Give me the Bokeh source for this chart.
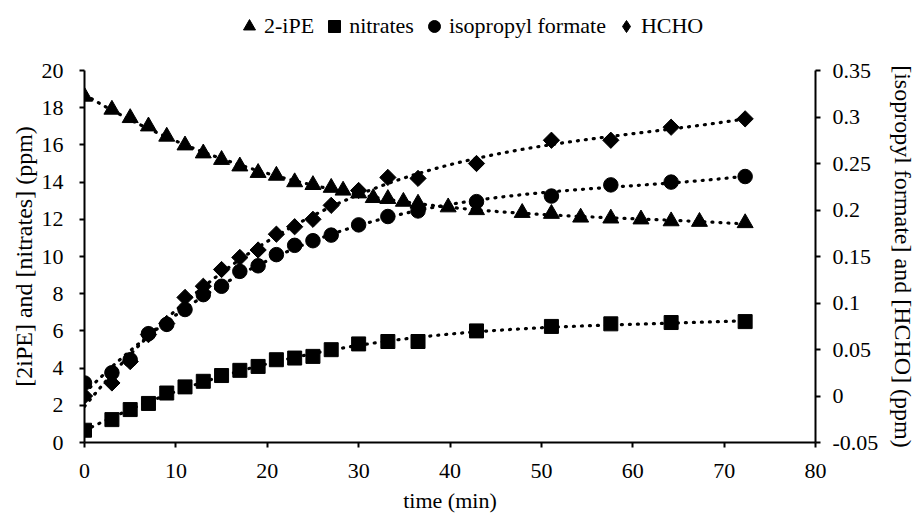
import numpy as np
from bokeh.plotting import figure
from bokeh.layouts import column
from bokeh.models import (Range1d, LinearAxis, FixedTicker, Legend, LegendItem,
                          CustomJSTickFormatter)
from bokeh.embed import file_html
from bokeh.resources import INLINE

# ---- data ----
time_ipe = [0, 3, 5, 7, 9, 11, 13, 15, 17, 19, 21, 23, 25, 27, 28.3, 30, 31.6, 33.2,
            34.9, 36.5, 39.8, 42.9, 47.9, 51.1, 54.3, 57.6, 60.9, 64.2, 67.3, 72.3]
ipe = [18.6, 17.9, 17.45, 17.0, 16.45, 15.98, 15.55, 15.2, 14.85, 14.5, 14.35, 14.0,
       13.85, 13.7, 13.55, 13.4, 13.15, 13.1, 12.95, 12.85, 12.65, 12.5, 12.35, 12.3,
       12.1, 12.05, 12.0, 11.9, 11.87, 11.8]

time_b = [0, 3, 5, 7, 9, 11, 13, 15, 17, 19, 21, 23, 25, 27, 30, 33.2, 36.5, 42.9,
          51.1, 57.6, 64.2, 72.3]
nitrates = [0.66, 1.23, 1.77, 2.1, 2.66, 2.99, 3.29, 3.6, 3.88, 4.09, 4.45, 4.54,
            4.63, 4.99, 5.3, 5.43, 5.43, 6.0, 6.24, 6.38, 6.45, 6.5]
formate = [0.014, 0.025, 0.039, 0.067, 0.077, 0.093, 0.109, 0.118, 0.134, 0.140,
           0.152, 0.162, 0.167, 0.173, 0.184, 0.193, 0.199, 0.209, 0.215, 0.227,
           0.230, 0.236]
hcho = [0.0, 0.014, 0.037, 0.066, 0.078, 0.106, 0.118, 0.136, 0.149, 0.157, 0.174,
        0.182, 0.190, 0.205, 0.221, 0.235, 0.234, 0.250, 0.275, 0.275, 0.289, 0.298]

series_names = ["2-iPE", "nitrates", "isopropyl formate", "HCHO"]
x_ticks = [0, 10, 20, 30, 40, 50, 60, 70, 80]
left_ticks = [0, 2, 4, 6, 8, 10, 12, 14, 16, 18, 20]
right_ticks = [-0.05, 0, 0.05, 0.1, 0.15, 0.2, 0.25, 0.3, 0.35]

FONT = "Liberation Serif"
LEG_H = 46

# marker styles for the four series
MARKERS = [dict(marker="triangle", size=16),
           dict(marker="square", size=14),
           dict(marker="circle", size=14.5),
           dict(marker="square", size=11.5, angle=np.pi / 4)]
LEGEND_MARKERS = ["triangle", "square", "circle", "diamond"]
SERIES = [(time_ipe, ipe), (time_b, nitrates), (time_b, formate), (time_b, hcho)]

# ---------------- legend strip (its frame is aligned with the chart frame) ----------------
lg = figure(width=919, height=LEG_H, output_backend="svg", toolbar_location=None,
            x_axis_type=None, y_axis_type=None, x_range=Range1d(0, 80),
            y_range=Range1d(-2, -1), min_border=0)
lg.outline_line_color = None
lg.xgrid.visible = False
lg.ygrid.visible = False
# the series drawn here fall outside this strip's range; they only feed the legend
leg_renderers = [lg.scatter(t, v, color="black", marker=m)
                 for (t, v), m in zip(SERIES, LEGEND_MARKERS)]
legend = Legend(items=[LegendItem(label=n, renderers=[r])
                       for n, r in zip(series_names, leg_renderers)],
                orientation="horizontal", location=(150, 5),
                glyph_width=30, glyph_height=30, label_standoff=0, spacing=5,
                padding=0, margin=0, border_line_color=None,
                background_fill_alpha=0,
                label_text_font=FONT, label_text_font_size="22px",
                label_text_color="black")
lg.add_layout(legend, "center")

# ---------------- main chart ----------------
p = figure(width=919, height=515 - LEG_H, output_backend="svg", toolbar_location=None,
           x_range=Range1d(0, 80), y_range=Range1d(0, 20),
           min_border_left=84, min_border_right=102, min_border_top=70 - LEG_H,
           min_border_bottom=72)
p.extra_y_ranges = {"right": Range1d(-0.05, 0.35)}
p.xgrid.visible = False
p.ygrid.visible = False
p.outline_line_color = None


def style_axis(ax, label_size):
    ax.axis_line_color = "black"
    ax.axis_line_width = 2
    ax.major_tick_line_color = "black"
    ax.major_tick_line_width = 2
    ax.major_tick_out = 5
    ax.major_tick_in = 0
    ax.minor_tick_line_color = None
    ax.major_label_text_font = FONT
    ax.major_label_text_font_size = "22px"
    ax.major_label_text_color = "black"
    ax.axis_label_text_font = FONT
    ax.axis_label_text_font_size = label_size
    ax.axis_label_text_font_style = "normal"
    ax.axis_label_text_color = "black"


p.xaxis.ticker = FixedTicker(ticks=x_ticks)
p.xaxis.axis_label = "time (min)"
style_axis(p.xaxis[0], "22px")
p.xaxis.major_label_standoff = 16
p.xaxis.axis_label_standoff = 7

p.yaxis.ticker = FixedTicker(ticks=left_ticks)
p.yaxis.axis_label = "[2iPE] and [nitrates] (ppm)"
style_axis(p.yaxis[0], "24px")
p.yaxis.major_label_standoff = 16
p.yaxis.axis_label_standoff = 2

raxis = LinearAxis(y_range_name="right", ticker=FixedTicker(ticks=right_ticks),
                   axis_label="[isopropyl formate] and [HCHO] (ppm)",
                   formatter=CustomJSTickFormatter(code="""
                       let s = tick.toFixed(2);
                       s = s.replace(/0+$/, '').replace(/\\.$/, '');
                       if (s === '-0') { s = '0'; }
                       return s;
                   """))
style_axis(raxis, "24px")
raxis.major_label_standoff = 12
raxis.axis_label_standoff = 9
p.add_layout(raxis, "right")

DOT = dict(line_color="black", line_width=3.2, line_dash="1 7", line_cap="round")


def trend(t, v, deg=3, **kw):
    c = np.polyfit(t, v, deg)
    tt = np.linspace(0, max(t), 200)
    p.line(tt, np.polyval(c, tt), **DOT, **kw)


trend(time_ipe, ipe)
trend(time_b, nitrates)
trend(time_b, formate, y_range_name="right")
trend(time_b, hcho, y_range_name="right")

p.scatter(time_ipe, ipe, color="black", **MARKERS[0])
p.scatter(time_b, nitrates, color="black", **MARKERS[1])
p.scatter(time_b, formate, color="black", y_range_name="right", **MARKERS[2])
p.scatter(time_b, hcho, color="black", y_range_name="right", **MARKERS[3])

layout = column(lg, p, spacing=0)
open("out.html", "w").write(file_html(layout, INLINE))
